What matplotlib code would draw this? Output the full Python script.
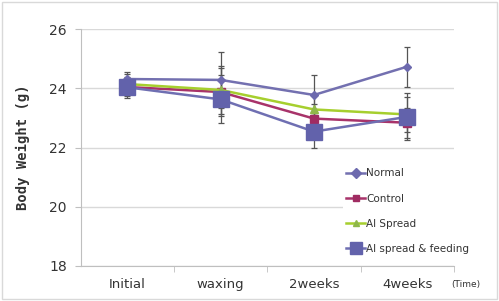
import matplotlib.pyplot as plt
from matplotlib.patches import Rectangle

# data
times = ["Initial", "waxing", "2weeks", "4weeks"]
normal = [24.32, 24.29, 23.78, 24.74]
normal_err = [0.25, 0.96, 0.68, 0.68]
control = [24.05, 23.88, 22.98, 22.84]
control_err = [0.3, 0.8, 0.5, 0.5]
spread = [24.15, 23.95, 23.29, 23.12]
spread_err = [0.35, 0.8, 0.5, 0.6]
feeding = [24.04, 23.63, 22.54, 23.04]
feeding_err = [0.35, 0.81, 0.57, 0.8]

fig = plt.figure(figsize=(4.99, 3.01), dpi=100)
ax = fig.add_axes([0.1617, 0.1173, 0.748, 0.785])

# chart border
fig.patches.append(Rectangle((0.004, 0.008), 0.991, 0.985, transform=fig.transFigure,
                             fill=False, edgecolor="#d9d9d9", linewidth=1))

x = list(range(len(times)))
series = [
    ("Normal", normal, normal_err, "#7370b0", "#6d6aae", "D", 4.5),
    ("Control", control, control_err, "#a8336a", "#a02c62", "s", 6),
    ("AI Spread", spread, spread_err, "#a6cf2e", "#8fb84a", "^", 6),
    ("AI spread & feeding", feeding, feeding_err, "#6f6fb2", "#6262ab", "s", 11),
]

for name, vals, err, lc, mc, mk, ms in series:
    ax.errorbar(x, vals, yerr=err, fmt="none", ecolor="#555555", elinewidth=0.9,
                capsize=2.5, capthick=0.9, zorder=2)
for name, vals, err, lc, mc, mk, ms in series:
    ax.plot(x, vals, color=lc, linewidth=1.8, marker=mk, markersize=ms,
            markerfacecolor=mc, markeredgecolor=mc, label=name, zorder=3)

ax.set_xlim(-0.5, 3.5)
ax.set_ylim(18, 26)
ax.set_yticks([18, 20, 22, 24, 26])
ax.set_xticks(x)
ax.set_xticklabels(times)
ax.set_xticks([0.5, 1.5, 2.5, 3.5], minor=True)
ax.tick_params(axis="x", which="major", length=0, pad=9, labelsize=9.5, colors="#333333")
ax.tick_params(axis="x", which="minor", length=4, color="#bfbfbf", direction="out")
ax.tick_params(axis="y", length=4, color="#bfbfbf", labelsize=10, colors="#333333", pad=6)
ax.grid(axis="y", color="#d9d9d9", linewidth=1)
ax.set_axisbelow(True)
for s in ["top", "right"]:
    ax.spines[s].set_visible(False)
for s in ["left", "bottom"]:
    ax.spines[s].set_color("#bfbfbf")

ax.set_ylabel("Body Weight (g)", family="DejaVu Sans Mono", fontweight="bold",
              fontsize=10, color="#333333", labelpad=14)

fig.text(0.905, 0.047, "(Time)", fontsize=6.5, color="#333333")

leg = ax.legend(loc="upper left", bbox_to_anchor=(0.703, 0.425), fontsize=7.5,
                frameon=True, facecolor="white", edgecolor="none", framealpha=1,
                labelspacing=1.45, handlelength=1.8, handletextpad=0.1,
                borderpad=0.3, borderaxespad=0, fancybox=False)
for h in leg.legend_handles:
    h.set_markersize(5 if h.get_label() != "AI spread & feeding" else 8)
for t in leg.get_texts():
    t.set_color("#333333")

fig.savefig("out.png", dpi=100)
